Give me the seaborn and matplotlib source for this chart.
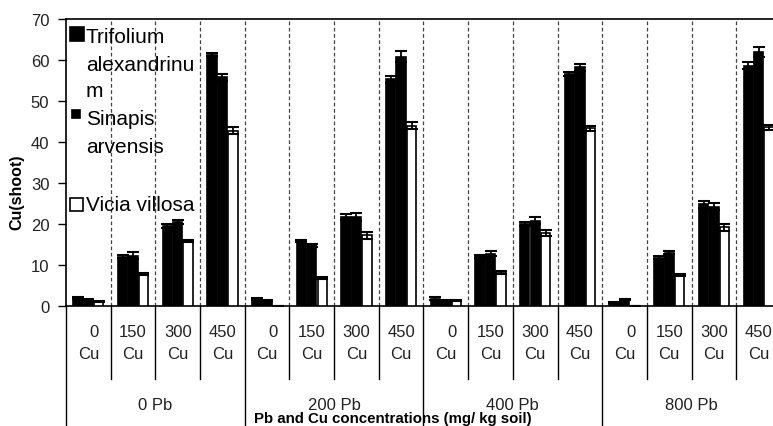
import numpy as np
import pandas as pd
import matplotlib
matplotlib.use("Agg")
import matplotlib.pyplot as plt
import seaborn as sns
from matplotlib.patches import Rectangle
from matplotlib.transforms import blended_transform_factory

# ---------------- data ----------------
pb_levels = ["0 Pb", "200 Pb", "400 Pb", "800 Pb"]
cu_levels = ["0", "150", "300", "450"]
species = ["Trifolium alexandrinum", "Sinapis arvensis", "Vicia villosa"]

trifolium = [1.9, 12.0, 19.5, 61.3, 1.7, 15.8, 21.7, 55.3, 1.8, 12.1, 20.0, 56.6, 0.9, 11.8, 24.8, 58.6]
trifolium_err = [0.2, 0.4, 0.5, 0.4, 0.2, 0.3, 0.8, 0.8, 0.3, 0.3, 0.6, 0.5, 0.1, 0.3, 0.8, 0.8]
sinapis = [1.6, 12.3, 20.5, 55.8, 1.3, 14.8, 21.8, 60.8, 1.3, 12.8, 20.8, 58.2, 1.5, 13.0, 24.2, 62.0]
sinapis_err = [0.2, 0.8, 0.5, 0.8, 0.1, 0.4, 1.0, 1.3, 0.2, 0.7, 0.9, 0.9, 0.1, 0.3, 0.9, 1.2]
vicia = [1.0, 7.8, 15.8, 42.8, 0.05, 6.8, 17.2, 44.0, 1.4, 8.2, 17.8, 43.3, 0.05, 7.6, 19.2, 43.6]
vicia_err = [0.1, 0.3, 0.3, 0.8, 0.0, 0.2, 0.8, 0.9, 0.1, 0.3, 0.8, 0.7, 0.0, 0.3, 0.8, 0.6]

categories = [f"{pb}|{cu}" for pb in pb_levels for cu in cu_levels]
values = {species[0]: trifolium, species[1]: sinapis, species[2]: vicia}
errors = {species[0]: trifolium_err, species[1]: sinapis_err, species[2]: vicia_err}

rows = []
for sp in species:
    for cat, v in zip(categories, values[sp]):
        rows.append({"cat": cat, "species": sp, "value": v})
df = pd.DataFrame(rows)

# ---------------- figure ----------------
W, H = 773, 427
plt.rcParams["font.family"] = ["Liberation Sans", "DejaVu Sans"]
fig = plt.figure(figsize=(W / 100, H / 100), dpi=100)
ax = fig.add_axes([66 / W, (H - 307) / H, 715 / W, 287 / H])

palette = {species[0]: "black", species[1]: "black", species[2]: "white"}
sns.barplot(data=df, x="cat", y="value", hue="species", order=categories,
            hue_order=species, palette=palette, width=0.7, gap=0.1,
            edgecolor="black", linewidth=1.2, errorbar=None, legend=False,
            ax=ax, zorder=3)

# error bars
for cont, sp in zip(ax.containers, species):
    xs, ys, es = [], [], []
    for p in cont:
        xc = p.get_x() + p.get_width() / 2
        idx = int(round(xc))
        xs.append(xc)
        ys.append(p.get_height())
        es.append(errors[sp][idx])
    ax.errorbar(xs, ys, yerr=es, fmt="none", ecolor="black", elinewidth=1.3,
                capsize=4, capthick=1.5, zorder=4)

ax.set_xlim(-0.5, 15.5)
ax.set_ylim(0, 70)
ax.set_yticks(np.arange(0, 71, 10))
ax.tick_params(axis="y", length=6, width=1, pad=6, labelsize=12, labelcolor="#222")
ax.set_xticks([])
ax.set_xlabel("")
ax.set_ylabel("")
for s in ax.spines.values():
    s.set_color("black")
    s.set_linewidth(1.2)

# vertical dashed grid lines at category boundaries
for b in np.arange(0.5, 15.0, 1.0):
    ax.axvline(b, color="#444444", ls=(0, (3, 2)), lw=0.9, zorder=1)

# bottom multi-level category axis
def fy(ypix):
    return (307 - ypix) / 287

trans = blended_transform_factory(ax.transData, ax.transAxes)
group_bounds = [-0.5, 3.5, 7.5, 11.5, 15.5]
for b in np.arange(-0.5, 16.0, 1.0):
    bottom = fy(440) if b in group_bounds else fy(380)
    ax.plot([b, b], [0, bottom], transform=trans, color="black", lw=1,
            clip_on=False)

for i, cat in enumerate(categories):
    num = cu_levels[i % 4]
    ax.text(i, fy(325), f"{num}\nCu", transform=trans, ha="center", va="top",
            multialignment="right" if num == "0" else "center",
            linespacing=1.55, fontsize=12, color="#222")

for g, pb in enumerate(pb_levels):
    ax.text(g * 4 + 1.5, fy(410), pb, transform=trans, ha="center",
            va="baseline", fontsize=12, color="#222")

fig.text(393 / W, 1 - 423 / H, "Pb and Cu concentrations (mg/ kg soil)",
         ha="center", va="baseline", fontsize=10.8, fontweight="bold")
fig.text(17 / W, 1 - 192 / H, "Cu(shoot)", rotation=90, ha="center",
         va="center", fontsize=11.5, fontweight="bold")

# legend (drawn manually to match the layout)
def rect(x0, y0, x1, y1, fc):
    fig.add_artist(Rectangle((x0 / W, 1 - y1 / H), (x1 - x0) / W, (y1 - y0) / H,
                             transform=fig.transFigure, facecolor=fc,
                             edgecolor="black", lw=1.2, zorder=5))

rect(70, 28, 84, 42, "black")
rect(72, 111, 80, 119, "black")
rect(70, 199, 83, 212, "white")
legend_lines = [("Trifolium", 43), ("alexandrinu", 71), ("m", 97),
                ("Sinapis", 125), ("arvensis", 153), ("Vicia villosa", 211)]
for txt, yb in legend_lines:
    fig.text(86 / W, 1 - yb / H, txt, ha="left", va="baseline", fontsize=15,
             color="black", zorder=6)

fig.savefig("out.png", dpi=100)
